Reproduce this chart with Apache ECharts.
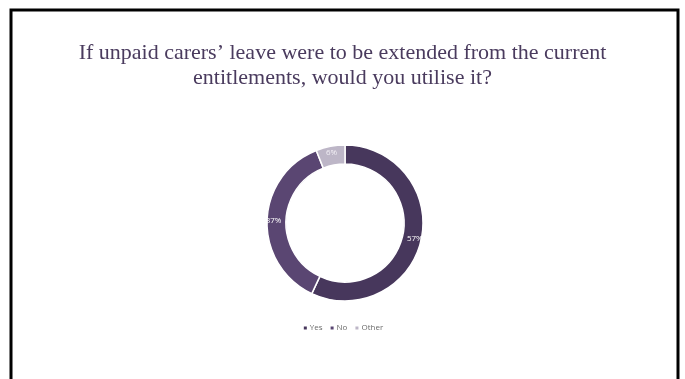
<!DOCTYPE html>
<html>
<head>
<meta charset="utf-8">
<script src="https://cdn.jsdelivr.net/npm/echarts@6/dist/echarts.min.js"></script>
<style>
  html, body { margin: 0; padding: 0; background: #ffffff; }
  #chart { width: 685px; height: 379px; }
</style>
</head>
<body>
<div id="chart"></div>
<script>
// Survey answers and their shares (percent)
const answers = ['Yes', 'No', 'Other'];
const shares = [57, 37, 6];
const sliceColors = ['#47375c', '#5a4672', '#bdb6c7'];

const chart = echarts.init(document.getElementById('chart'), null, { renderer: 'canvas' });

chart.setOption({
  backgroundColor: '#ffffff',
  animation: false,
  title: {
    text: 'If unpaid carers\u2019 leave were to be extended from the current\nentitlements, would you utilise it?',
    left: 'center',
    top: 36,
    textStyle: {
      fontFamily: 'Liberation Serif',
      fontWeight: 'normal',
      fontSize: 22,
      lineHeight: 25,
      color: '#4a3b5e'
    }
  },
  legend: {
    data: answers,
    bottom: 42,
    left: 'center',
    itemWidth: 5,
    itemHeight: 5,
    itemGap: 6,
    icon: 'rect',
    textStyle: { fontFamily: 'Open Sans', fontSize: 8, color: '#6b6b6b', padding: [0, 0, 0, -3] }
  },
  graphic: [{
    type: 'rect',
    shape: { x: 11, y: 10, width: 667, height: 400 },
    style: { fill: 'none', stroke: '#000000', lineWidth: 3 },
    silent: true
  }],
  series: [{
    type: 'pie',
    center: [345, 223],
    radius: [59, 78],
    startAngle: 90,
    clockwise: true,
    itemStyle: { borderColor: '#ffffff', borderWidth: 1.5 },
    label: {
      position: 'inside',
      formatter: '{d}%',
      fontFamily: 'Open Sans',
      fontSize: 8,
      color: '#ffffff'
    },
    labelLine: { show: false },
    data: answers.map((name, i) => ({
      name: name,
      value: shares[i],
      itemStyle: { color: sliceColors[i] },
      label: i === 2 ? { color: '#f2eff5' } : {}
    }))
  }]
});
</script>
</body>
</html>
